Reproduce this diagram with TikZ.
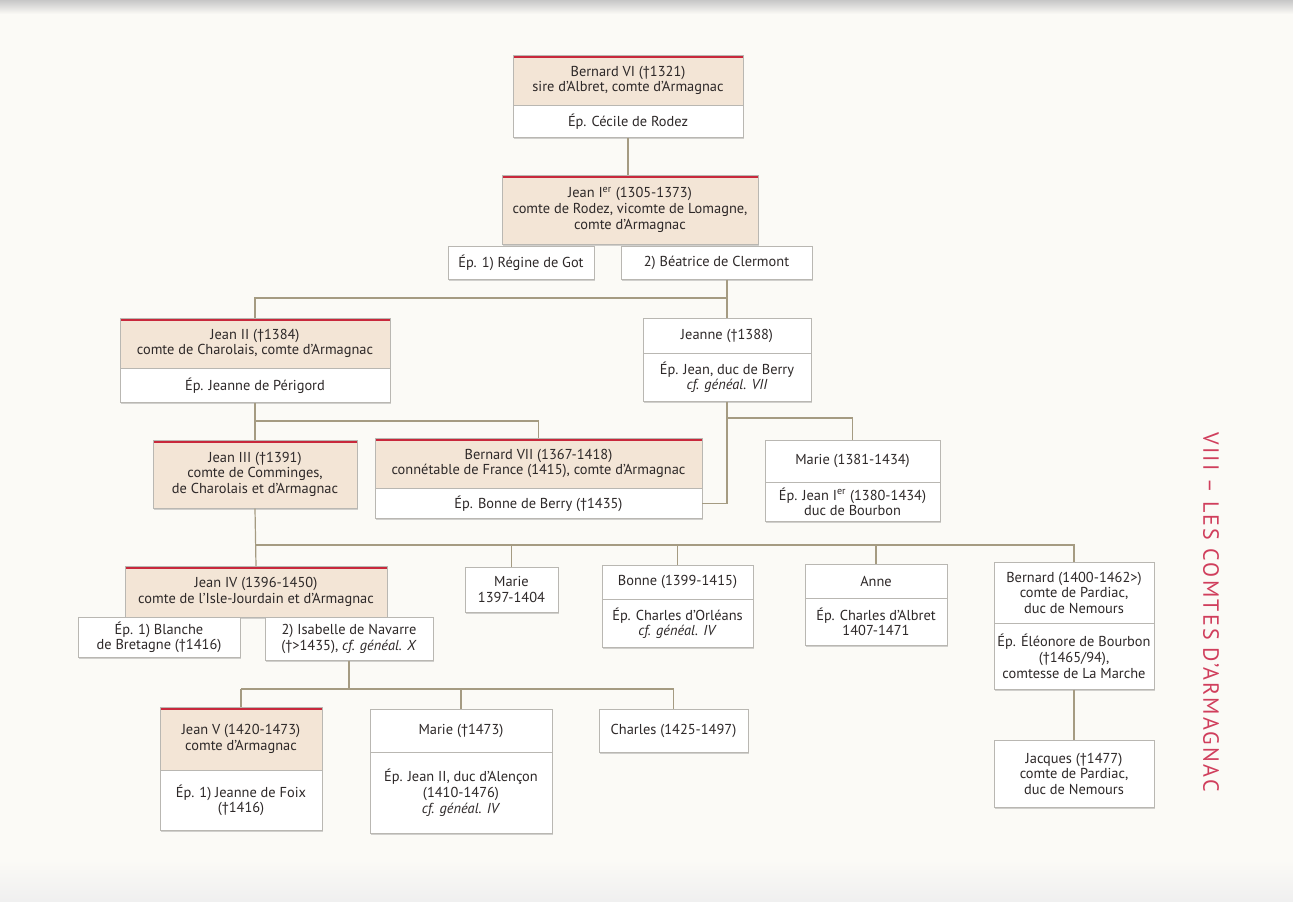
\documentclass[tikz,border=0pt]{standalone}
\usepackage{fontspec}
\setmainfont{PT Sans}
\newfontfamily\titlefont[LetterSpace=10]{PT Sans}
\usetikzlibrary{shadows,calc}
\definecolor{pagebg}{RGB}{251,250,246}
\definecolor{beige}{RGB}{243,229,214}
\definecolor{redline}{RGB}{200,40,60}
\definecolor{conncol}{RGB}{165,155,130}
\definecolor{boxline}{RGB}{185,183,178}
\definecolor{txt}{RGB}{45,40,40}
\definecolor{titlered}{RGB}{208,62,92}
\tikzset{
  gbase/.style={draw=boxline, line width=0.5pt, align=center, inner xsep=0.5pt, inner ysep=1pt,
    text=txt, font=\fontsize{10.8}{11.8}\selectfont,
    drop shadow={shadow xshift=0.6pt, shadow yshift=-1.4pt, opacity=0.35}},
  head/.style={gbase, fill=beige, path picture={\fill[redline] (path picture bounding box.north west) rectangle ([yshift=-2.2pt]path picture bounding box.north east);}},
  plain/.style={gbase, fill=white},
  conn/.style={draw=conncol, line width=0.9pt},
}
% name, style, x1, x2, ytop, ybottom, text
\newcommand\gb[7]{\node[#2, anchor=north, minimum width={(#4-#3)*0.75pt}, minimum height={(#6-#5)*0.75pt}] (#1) at ({(#3+#4)/2},#5) {#7};}
\begin{document}
\begin{tikzpicture}[x=0.75pt,y=-0.75pt]
\useasboundingbox (0,0) rectangle (1293,901);
\fill[pagebg] (0,0) rectangle (1293,901);
\shade[top color=black!22, bottom color=pagebg] (0,0) rectangle (1293,14);
\shade[top color=pagebg, bottom color=black!6] (0,860) rectangle (1293,901);

\gb{b6}{head}{513}{743}{55}{105}{Bernard VI (†1321)\\sire d’Albret, comte d’Armagnac}
\gb{b6s}{plain}{513}{743}{105}{137}{Ép. Cécile de Rodez}
\gb{j1}{head}{502}{758}{175}{244}{Jean I\textsuperscript{er} (1305-1373)\\comte de Rodez, vicomte de Lomagne,\\comte d’Armagnac}
\gb{regine}{plain}{448}{594}{246}{279}{Ép. 1) Régine de Got}
\gb{bea}{plain}{621}{812}{246}{279}{2) Béatrice de Clermont}
\gb{j2}{head}{120}{390}{318}{368}{Jean II (†1384)\\comte de Charolais, comte d’Armagnac}
\gb{j2s}{plain}{120}{390}{368}{402}{Ép. Jeanne de Périgord}
\gb{jeanne}{plain}{643}{811}{318}{353}{Jeanne (†1388)}
\gb{jeannes}{plain}{643}{811}{353}{401}{Ép. Jean, duc de Berry\\\textit{cf. généal. VII}}
\gb{j3}{head}{153}{357}{440}{508}{Jean III (†1391)\\comte de Comminges,\\de Charolais et d’Armagnac}
\gb{b7}{head}{375}{702}{438}{488}{Bernard VII (1367-1418)\\connétable de France (1415), comte d’Armagnac}
\gb{b7s}{plain}{375}{702}{488}{518}{Ép. Bonne de Berry (†1435)}
\gb{marie1}{plain}{765}{940}{440}{482}{Marie (1381-1434)}
\gb{marie1s}{plain}{765}{940}{482}{521}{Ép. Jean I\textsuperscript{er} (1380-1434)\\duc de Bourbon}
\gb{j4}{head}{125}{387}{566}{617}{Jean IV (1396-1450)\\comte de l’Isle-Jourdain et d’Armagnac}
\gb{blanche}{plain}{78}{240}{617}{657}{Ép. 1) Blanche\\de Bretagne (†1416)}
\gb{isa}{plain}{265}{433}{617}{660}{2) Isabelle de Navarre\\(†>1435), \textit{cf. généal. X}}
\gb{marie2}{plain}{465}{558}{567}{612}{Marie\\1397-1404}
\gb{bonne}{plain}{602}{753}{565}{599}{Bonne (1399-1415)}
\gb{bonnes}{plain}{602}{753}{599}{647}{Ép. Charles d’Orléans\\\textit{cf. généal. IV}}
\gb{anne}{plain}{805}{947}{564}{598}{Anne}
\gb{annes}{plain}{805}{947}{598}{645}{Ép. Charles d’Albret\\1407-1471}
\gb{bern}{plain}{994}{1154}{562}{623}{Bernard (1400-1462>)\\comte de Pardiac,\\duc de Nemours}
\gb{berns}{plain}{994}{1154}{623}{689}{Ép. Éléonore de Bourbon\\(†1465/94),\\comtesse de La Marche}
\gb{jacques}{plain}{994}{1154}{740}{807}{Jacques (†1477)\\comte de Pardiac,\\duc de Nemours}
\gb{j5}{head}{160}{322}{707}{770}{Jean V (1420-1473)\\comte d’Armagnac}
\gb{j5s}{plain}{160}{322}{770}{830}{Ép. 1) Jeanne de Foix\\(†1416)}
\gb{marie3}{plain}{370}{552}{709}{752}{Marie (†1473)}
\gb{marie3s}{plain}{370}{552}{752}{833}{Ép. Jean II, duc d’Alençon\\(1410-1476)\\\textit{cf. généal. IV}}
\gb{charles}{plain}{599}{748}{709}{752}{Charles (1425-1497)}

\node[rotate=-90, text=titlered, font=\titlefont\fontsize{16.5}{18}\selectfont] (title) at (1211,612) {VIII – LES COMTES D’ARMAGNAC};

\coordinate (r1) at (0,298);
\coordinate (r2) at (0,421);
\coordinate (r3) at (0,418);
\coordinate (r5) at (0,545);
\coordinate (r6) at (0,689);

\draw[conn] (b6s.south) -- (b6s.south |- j1.north);
\draw[conn] (jeanne.north |- bea.south) -- (jeanne.north);
\draw[conn] (j2.north) -- (j2.north |- r1) -- (jeanne.north |- r1);
\draw[conn] (j2s.south) -- (j3.north);
\draw[conn] (j2s.south |- r2) -- (b7.north |- r2) -- (b7.north);
\draw[conn] (jeannes.south) |- (b7s.east);
\draw[conn] (jeannes.south |- r3) -| (marie1.north);
\draw[conn] (j3.south) -- (j4.north);
\draw[conn] (j3.south |- r5) -| (bern.north);
\foreach \n in {marie2,bonne,anne} {\draw[conn] (\n.north |- r5) -- (\n.north);}
\draw[conn] (isa.south) -- (isa.south |- r6);
\draw[conn] (j5.north |- r6) -| (charles.north);
\draw[conn] (j5.north |- r6) -- (j5.north);
\draw[conn] (marie3.north |- r6) -- (marie3.north);
\draw[conn] (berns.south) -- (jacques.north);
\end{tikzpicture}
\end{document}
